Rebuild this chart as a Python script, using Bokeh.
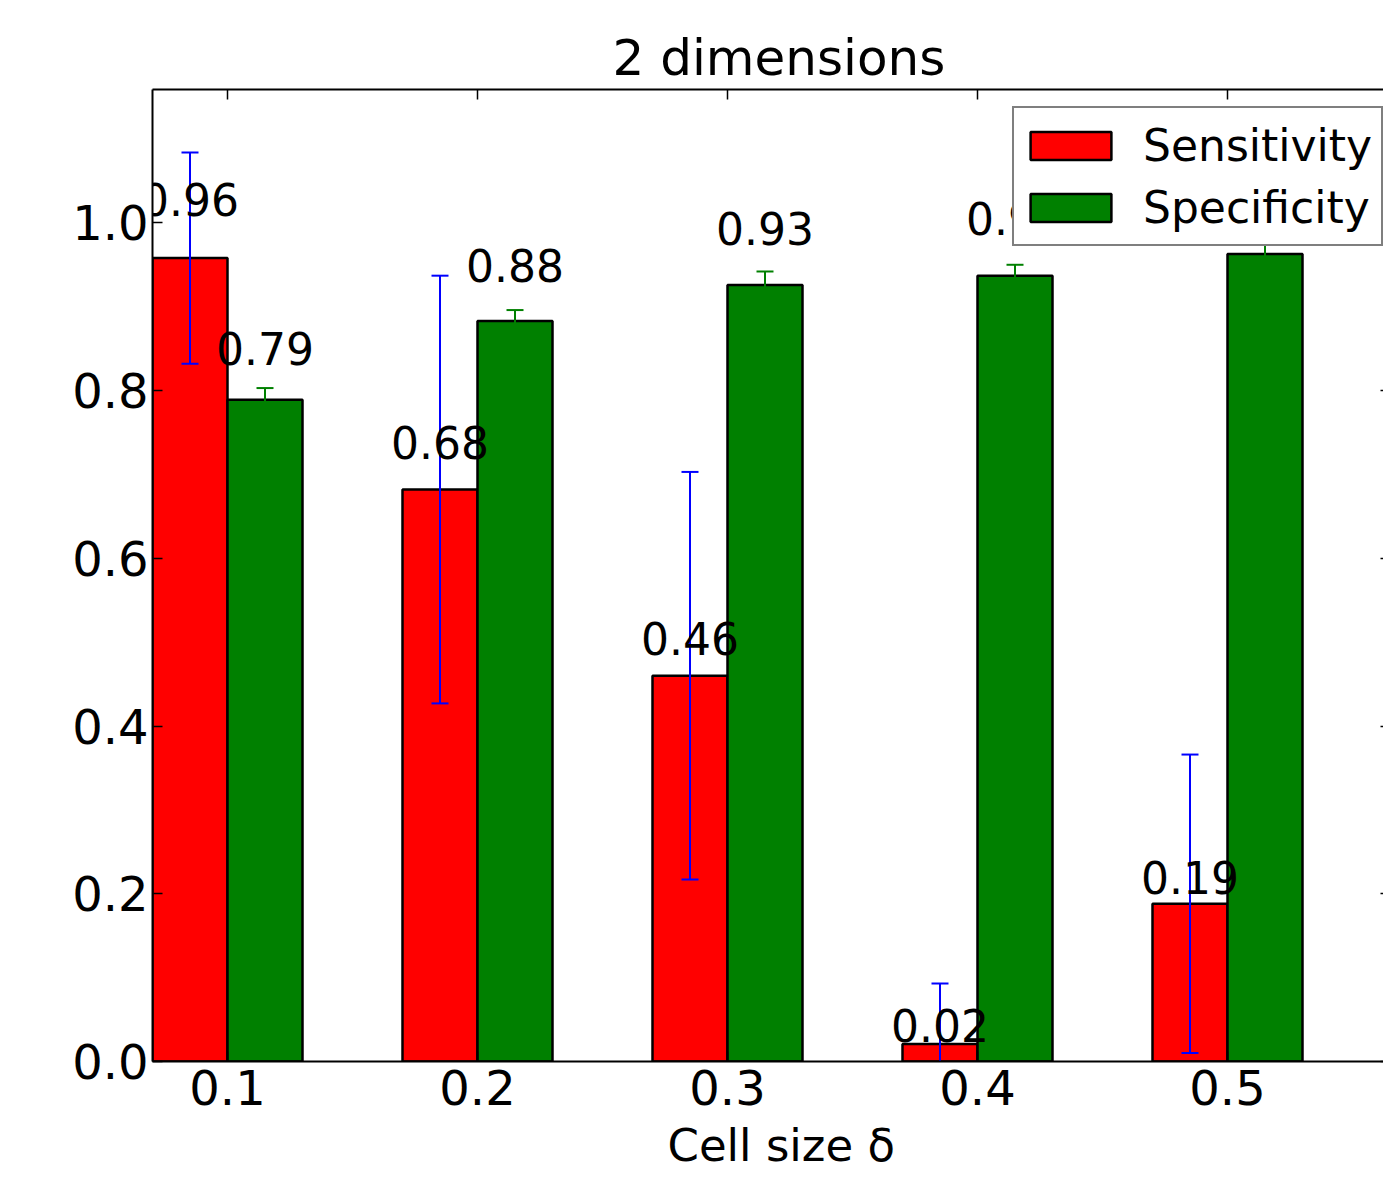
from bokeh.plotting import figure
from bokeh.models import Range1d, FixedTicker, PrintfTickFormatter, LinearAxis, ColumnDataSource, Title
from bokeh.embed import file_html
from bokeh.resources import INLINE
from bokeh.core.properties import value

# ---- data ----
cell_sizes = [0.1, 0.2, 0.3, 0.4, 0.5]
sensitivity = [0.958, 0.682, 0.460, 0.021, 0.188]
sensitivity_err = [0.126, 0.255, 0.243, 0.072, 0.178]
specificity = [0.789, 0.883, 0.926, 0.937, 0.963]
specificity_err = [0.014, 0.013, 0.016, 0.013, 0.015]
x_ticks = [0.1, 0.2, 0.3, 0.4, 0.5]
y_ticks = [0.0, 0.2, 0.4, 0.6, 0.8, 1.0]
bar_width = 0.03
title_text = "2 dimensions"
x_label = "Cell size δ"

FONT = "DejaVu Sans"

def make_source(vals, errs, shift):
    xs = [c + shift for c in cell_sizes]
    return ColumnDataSource(dict(
        x=xs,
        top=vals,
        lower=[v - e for v, e in zip(vals, errs)],
        upper=[v + e for v, e in zip(vals, errs)],
        label_y=[1.05 * v for v in vals],
        label=["%.2f" % v for v in vals],
    ))

sens_src = make_source(sensitivity, sensitivity_err, -bar_width / 2)
spec_src = make_source(specificity, specificity_err, bar_width / 2)

p = figure(
    width=1383, height=1181,
    x_range=Range1d(0.07, 0.5624), y_range=Range1d(0.0, 1.159),
    output_backend="svg", toolbar_location=None,
    min_border_left=152, min_border_right=0, min_border_top=89, min_border_bottom=120,
)
p.title.text = title_text
p.outline_line_color = None
p.xgrid.visible = False
p.ygrid.visible = False
p.background_fill_color = "white"
p.border_fill_color = "white"

p.title.text_font = FONT
p.title.text_font_size = "50px"
p.title.text_font_style = "normal"
p.title.text_color = "black"
p.title.align = "left"
p.title.offset = 460
p.title.standoff = 5

# axes
for ax in (p.xaxis[0], p.yaxis[0]):
    ax.axis_line_color = "black"
    ax.axis_line_width = 2
    ax.major_tick_in = 10
    ax.major_tick_out = 0
    ax.major_tick_line_color = "black"
    ax.major_tick_line_width = 1.5
    ax.minor_tick_line_color = None
    ax.major_label_text_font = FONT
    ax.major_label_text_font_size = "48px"
    ax.major_label_text_color = "black"

p.xaxis[0].ticker = FixedTicker(ticks=x_ticks)
p.xaxis[0].formatter = PrintfTickFormatter(format="%.1f")
p.xaxis[0].major_label_standoff = 8

p.yaxis[0].ticker = FixedTicker(ticks=y_ticks)
p.yaxis[0].formatter = PrintfTickFormatter(format="%.1f")
p.yaxis[0].major_label_standoff = 4

xlab = Title(text=x_label, text_font=FONT, text_font_size="45px", text_font_style="normal",
             text_color="black", align="left", offset=515, standoff=19)
p.add_layout(xlab, "below")

top_axis = LinearAxis(
    ticker=FixedTicker(ticks=x_ticks),
    major_label_text_font_size="0px", major_label_standoff=0,
    major_tick_in=10, major_tick_out=0, major_tick_line_width=1.5,
    minor_tick_line_color=None, axis_line_color="black", axis_line_width=2,
)
p.add_layout(top_axis, "above")

right_axis = LinearAxis(
    ticker=FixedTicker(ticks=y_ticks),
    major_label_text_font_size="0px", major_label_standoff=0,
    major_tick_in=3, major_tick_out=0, major_tick_line_width=1.5,
    minor_tick_line_color=None, axis_line_color=None,
)
p.add_layout(right_axis, "right")

# bars
p.vbar(x="x", top="top", bottom=0, width=bar_width, source=sens_src,
       fill_color="#ff0000", line_color="black", line_width=2.5, legend_label="Sensitivity")
p.vbar(x="x", top="top", bottom=0, width=bar_width, source=spec_src,
       fill_color="#008000", line_color="black", line_width=2.5, legend_label="Specificity")

# error bars
for src, col in ((sens_src, "#0000ff"), (spec_src, "#008000")):
    p.segment(x0="x", y0="lower", x1="x", y1="upper", source=src, line_color=col, line_width=2)
    p.scatter(x="x", y="upper", source=src, marker="dash", size=17, line_color=col, line_width=2)
    p.scatter(x="x", y="lower", source=src, marker="dash", size=17, line_color=col, line_width=2)

# value labels
for src in (sens_src, spec_src):
    p.text(x="x", y="label_y", text="label", source=src, text_align="center",
           text_baseline="alphabetic", y_offset=-18, text_font=value(FONT), text_font_size="44px",
           text_color="black")

lg = p.legend[0]
lg.location = (860, 815)
lg.margin = 0
lg.padding = 6
lg.spacing = 0
lg.glyph_width = 101
lg.glyph_height = 35
lg.label_height = 62
lg.label_width = 232
lg.label_standoff = 22
lg.label_text_font = FONT
lg.label_text_font_size = "44px"
lg.label_text_color = "black"
lg.border_line_color = "black"
lg.border_line_width = 2
lg.background_fill_color = "white"
lg.background_fill_alpha = 1.0

open("out.html", "w").write(file_html(p, INLINE))
